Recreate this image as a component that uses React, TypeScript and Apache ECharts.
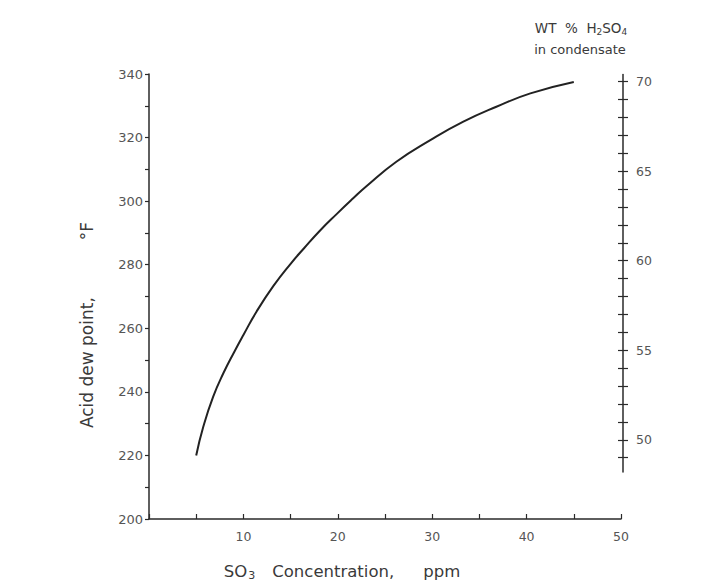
import React, { useEffect, useRef } from "react";
import * as echarts from "echarts";

// SO3 concentration (ppm) vs acid dew point (°F)
const so3Ppm = [5, 5.75, 6.8, 7.9, 9, 10, 11.4, 13.2, 15, 16.4, 18.1, 19.9, 21.6, 23, 26.2, 29.8, 33.3, 36.8, 40.4, 45];
const dewPointF = [220, 229, 238.5, 246, 252.4, 257.9, 265.3, 273.4, 280.3, 285.1, 290.7, 296, 300.8, 304.6, 312.4, 319.2, 325, 329.7, 333.9, 337.5];

// Tick labels
const leftTickLabels = [200, 220, 240, 260, 280, 300, 320, 340];
const bottomTickLabels = [10, 20, 30, 40, 50];
const rightTickLabels = [50, 55, 60, 65, 70];
const rightTicks = [49, 50, 51, 52, 53, 54, 55, 56, 57, 58, 59, 60, 61, 62, 63, 64, 65, 66, 67, 68, 69, 70];

const FONT = "DejaVu Sans";
const AXIS = "#2a2a2a";
const LABEL = "#555555";
const TITLE = "#3a3a3a";

export default function App() {
  const ref = useRef<HTMLDivElement>(null);
  useEffect(() => {
    if (!ref.current) return;
    const chart = echarts.init(ref.current, undefined, { renderer: "svg" });
    const axisLine = { show: true, onZero: false, lineStyle: { color: AXIS, width: 1.5 } };
    const tickStyle = { color: AXIS, width: 1.2 };
    const labelStyle = { color: LABEL, fontFamily: FONT };
    const option: any = {
      animation: false,
      backgroundColor: "#ffffff",
      grid: [
        { left: 149, right: 107, top: 74, bottom: 62, outerBoundsMode: "none" },
        { left: 149, right: 105, top: 74.5, bottom: 109, outerBoundsMode: "none" },
        { left: 149, right: 105, top: 74.5, bottom: 109, outerBoundsMode: "none" },
      ],
      xAxis: [
        {
          type: "value",
          gridIndex: 0,
          min: 0,
          max: 50,
          interval: 5,
          axisLine,
          axisTick: { show: true, inside: true, length: 5, lineStyle: tickStyle },
          axisLabel: { ...labelStyle, customValues: bottomTickLabels, fontSize: 12.5, margin: 11 },
          splitLine: { show: false },
        },
        { type: "value", gridIndex: 1, min: 0, max: 50, show: false },
        { type: "value", gridIndex: 2, min: 0, max: 50, show: false },
      ],
      yAxis: [
        {
          type: "value",
          gridIndex: 0,
          min: 200,
          max: 340,
          interval: 10,
          axisLine,
          axisTick: { show: true, length: 4, lineStyle: tickStyle },
          axisLabel: { ...labelStyle, customValues: leftTickLabels, fontSize: 13, margin: 6 },
          splitLine: { show: false },
        },
        {
          type: "value",
          gridIndex: 1,
          position: "right",
          min: 48.2,
          max: 70.4,
          axisLine,
          axisTick: { show: true, inside: true, length: 5, customValues: rightTicks, lineStyle: tickStyle },
          axisLabel: { show: false },
          splitLine: { show: false },
        },
        {
          type: "value",
          gridIndex: 2,
          position: "right",
          min: 48.2,
          max: 70.4,
          axisLine: { show: false, onZero: false },
          axisTick: { show: true, inside: false, length: 5, customValues: rightTicks, lineStyle: tickStyle },
          axisLabel: { ...labelStyle, customValues: rightTickLabels, fontSize: 12.5, margin: 13 },
          splitLine: { show: false },
        },
      ],
      series: [
        {
          type: "line",
          xAxisIndex: 0,
          yAxisIndex: 0,
          data: so3Ppm.map((x, i) => [x, dewPointF[i]]),
          smooth: 0.5,
          showSymbol: false,
          lineStyle: { color: "#222222", width: 2 },
        },
      ],
      graphic: [
        {
          type: "text",
          x: 342,
          y: 571,
          style: {
            text: "{a|SO}{s|3}{b|Concentration,}{c|ppm}",
            align: "center",
            verticalAlign: "middle",
            rich: {
              a: { fontFamily: FONT, fontSize: 16.5, lineHeight: 20, fill: TITLE },
              s: { fontFamily: FONT, fontSize: 11, lineHeight: 11, verticalAlign: "bottom", fill: TITLE, padding: [0, 0, 0, 1] },
              b: { fontFamily: FONT, fontSize: 16.5, lineHeight: 20, fill: TITLE, padding: [0, 0, 0, 17] },
              c: { fontFamily: FONT, fontSize: 16.5, lineHeight: 20, fill: TITLE, padding: [0, 0, 0, 29] },
            },
          },
        },
        {
          type: "text",
          x: 87,
          y: 325,
          rotation: Math.PI / 2,
          style: {
            text: "{a|Acid dew point,}{b|°F}",
            align: "center",
            verticalAlign: "middle",
            rich: {
              a: { fontFamily: FONT, fontSize: 17, lineHeight: 20, fill: TITLE },
              b: { fontFamily: FONT, fontSize: 17, lineHeight: 20, fill: TITLE, padding: [0, 0, 0, 57] },
            },
          },
        },
        {
          type: "text",
          x: 581,
          y: 28,
          style: {
            text: "{a|WT  %  H}{s|2}{a|SO}{s|4}",
            align: "center",
            verticalAlign: "middle",
            rich: {
              a: { fontFamily: FONT, fontSize: 13.5, lineHeight: 16, fill: TITLE },
              s: { fontFamily: FONT, fontSize: 9, lineHeight: 9, verticalAlign: "bottom", fill: TITLE },
            },
          },
        },
        {
          type: "text",
          x: 580,
          y: 49,
          style: {
            text: "in condensate",
            align: "center",
            verticalAlign: "middle",
            fontFamily: FONT,
            fontSize: 13,
            fill: TITLE,
          },
        },
      ],
    };
    chart.setOption(option);
    return () => chart.dispose();
  }, []);
  return (
    <div
      ref={ref}
      style={{ position: "fixed", left: 0, top: 0, width: 728, height: 581, background: "#fff" }}
    />
  );
}
